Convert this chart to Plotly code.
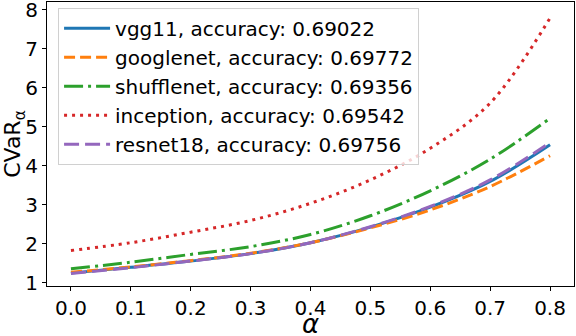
import plotly.graph_objects as go

alpha = [0.0, 0.1, 0.2, 0.3, 0.4, 0.5, 0.6, 0.7, 0.8]

vgg11 = [1.25, 1.40, 1.56, 1.75, 2.03, 2.43, 2.94, 3.60, 4.54]
googlenet = [1.27, 1.41, 1.57, 1.76, 2.03, 2.41, 2.87, 3.47, 4.26]
shufflenet = [1.36, 1.53, 1.73, 1.93, 2.24, 2.72, 3.36, 4.17, 5.22]
inception = [1.83, 2.03, 2.30, 2.60, 3.04, 3.64, 4.45, 5.61, 7.79]
resnet18 = [1.24, 1.39, 1.56, 1.75, 2.03, 2.44, 2.96, 3.64, 4.60]

names = ["vgg11, accuracy: 0.69022", "googlenet, accuracy: 0.69772",
         "shufflenet, accuracy: 0.69356", "inception, accuracy: 0.69542",
         "resnet18, accuracy: 0.69756"]
colors = ["#1f77b4", "#ff7f0e", "#2ca02c", "#d62728", "#9467bd"]
# matplotlib-like dash patterns for linewidth 3
dashes = ["solid", "11px,5px", "19px,5px,3px,5px", "3px,5px", "15px,6px"]

fig = go.Figure()
for i, ys in enumerate([vgg11, googlenet, shufflenet, inception, resnet18]):
    fig.add_trace(go.Scatter(x=alpha, y=ys, mode="lines", name=names[i],
                             line=dict(color=colors[i], width=3, dash=dashes[i], shape="spline"),
                             legendgroup=str(i)))

axis_style = dict(showline=True, linecolor="black", linewidth=1, mirror=True,
                  ticks="outside", ticklen=4, tickcolor="black", showgrid=False,
                  zeroline=False, tickfont=dict(size=20, color="black"),
                  ticklabeloverflow="allow", automargin=False)

fig.update_layout(
    width=576, height=336,
    margin=dict(l=47, r=2, t=2, b=50),
    plot_bgcolor="white", paper_bgcolor="white",
    font=dict(family="DejaVu Sans", color="black"),
    xaxis=dict(range=[-0.04, 0.84], tickvals=alpha, ticktext=[f"{a:.1f}" for a in alpha],
               **axis_style),
    yaxis=dict(range=[0.92, 8.2], tickvals=[1, 2, 3, 4, 5, 6, 7, 8],
               title=dict(text="CVaR<sub>α</sub>", font=dict(size=22), standoff=1), **axis_style),
    legend=dict(x=0.021, y=0.98, xanchor="left", yanchor="top",
                bgcolor="rgba(255,255,255,0.8)", bordercolor="#d0d0d0", borderwidth=1,
                font=dict(size=20), tracegroupgap=0, itemwidth=46),
)

# x-axis label placed by hand so it fits under the tick labels
fig.add_annotation(text="<i>α</i>", x=0.5, y=0, xref="paper", yref="paper",
                   xanchor="center", yanchor="middle", yshift=-38, showarrow=False,
                   font=dict(size=26))

# drop the browser's default body margin so the figure sits at the page corner
fig.write_html("out.html", config={"displayModeBar": False},
               post_script="document.body.style.margin='0';")
